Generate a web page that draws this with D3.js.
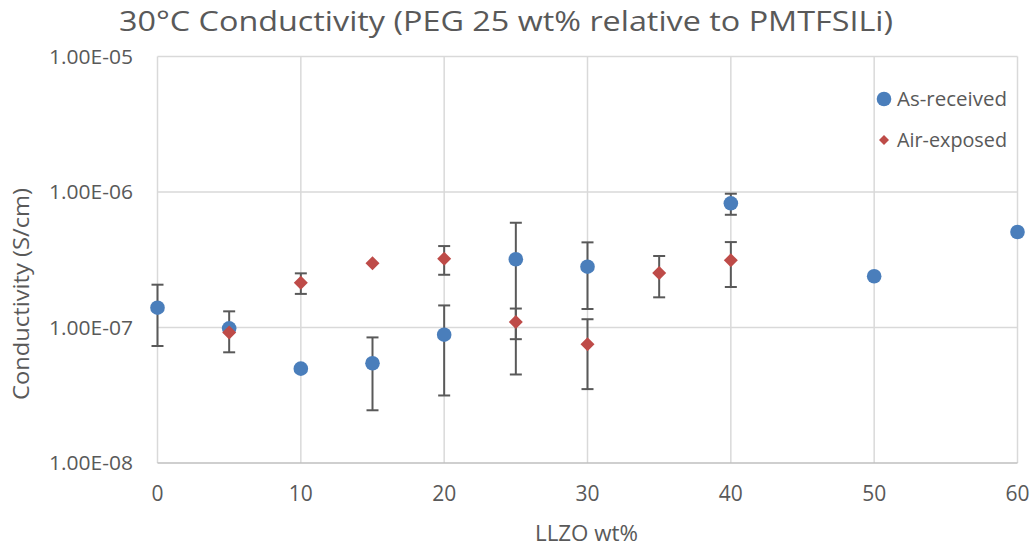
<!DOCTYPE html>
<html>
<head>
<meta charset="utf-8">
<script src="https://cdn.jsdelivr.net/npm/d3@7"></script>
<style>
  html, body { margin: 0; padding: 0; background: #fff; }
  svg text { font-family: "Open Sans", "Noto Sans", sans-serif; fill: #595959; }
</style>
</head>
<body>
<svg id="chart" width="1034" height="548"></svg>
<script>
// LLZO loading (wt%) and 30°C conductivity (S/cm) with standard deviations
const receivedX   = [0, 5, 10, 15, 20, 25, 30, 40, 50, 60];
const receivedY   = [1.40e-7, 9.86e-8, 4.97e-8, 5.45e-8, 8.85e-8, 3.19e-7, 2.81e-7, 8.25e-7, 2.39e-7, 5.07e-7];
const receivedErr = [6.7e-8, 3.3e-8, 0, 3.0e-8, 5.7e-8, 2.74e-7, 1.44e-7, 1.46e-7, 5e-9, 0];

const exposedX   = [5, 10, 15, 20, 25, 30, 35, 40];
const exposedY   = [9.2e-8, 2.14e-7, 2.98e-7, 3.22e-7, 1.10e-7, 7.51e-8, 2.52e-7, 3.13e-7];
const exposedErr = [0, 3.7e-8, 0, 7.7e-8, 2.8e-8, 4.0e-8, 8.5e-8, 1.14e-7];

const xTicks = [0, 10, 20, 30, 40, 50, 60];
const yTicks = [1e-8, 1e-7, 1e-6, 1e-5];
const seriesNames = ["As-received", "Air-exposed"];

const titleText = "30°C Conductivity (PEG 25 wt% relative to PMTFSILi)";
const xTitle = "LLZO wt%";
const yTitle = "Conductivity (S/cm)";

const blue = "#4a7ebb", red = "#be4b48", ink = "#595959", grid = "#d9d9d9";

const svg = d3.select("#chart");
const plotL = 157.5, plotR = 1017.5, plotT = 56.5, plotB = 463;

const x = d3.scaleLinear().domain([0, 60]).range([plotL, plotR]);
const y = d3.scaleLog().domain([1e-8, 1e-5]).range([plotB, plotT]);

// gridlines
svg.append("g").selectAll("line").data(xTicks).join("line")
  .attr("x1", d => x(d)).attr("x2", d => x(d))
  .attr("y1", plotT).attr("y2", plotB)
  .attr("stroke", grid).attr("stroke-width", 1.5);
svg.append("g").selectAll("line").data(yTicks).join("line")
  .attr("x1", plotL).attr("x2", plotR)
  .attr("y1", d => y(d)).attr("y2", d => y(d))
  .attr("stroke", d => d === 1e-8 ? "#bfbfbf" : grid).attr("stroke-width", 1.5);

// tick labels
svg.append("g").selectAll("text").data(yTicks).join("text")
  .attr("x", 133).attr("y", d => y(d)).attr("dy", "0.35em")
  .attr("text-anchor", "end").attr("font-size", 20)
  .attr("textLength", 84).attr("lengthAdjust", "spacingAndGlyphs")
  .text(d => d.toExponential(2).replace("e-", "E-0").toUpperCase());
svg.append("g").selectAll("text").data(xTicks).join("text")
  .attr("x", d => x(d)).attr("y", 494).attr("dy", "0.35em")
  .attr("text-anchor", "middle").attr("font-size", 21)
  .text(d => d);

// titles
svg.append("text").attr("x", 119).attr("y", 31)
  .attr("font-size", 28)
  .attr("textLength", 774).attr("lengthAdjust", "spacingAndGlyphs")
  .text(titleText);
svg.append("text").attr("x", 535).attr("y", 541)
  .attr("font-size", 21)
  .attr("textLength", 103).attr("lengthAdjust", "spacingAndGlyphs")
  .text(xTitle);
svg.append("text").attr("transform", "translate(29,400) rotate(-90)")
  .attr("font-size", 21)
  .attr("textLength", 212).attr("lengthAdjust", "spacingAndGlyphs")
  .text(yTitle);

// error bars
function errorBars(xs, ys, es) {
  const d = xs.map((v, i) => ({ x: v, lo: ys[i] - es[i], hi: ys[i] + es[i], e: es[i] })).filter(p => p.e > 0);
  const g = svg.append("g").attr("stroke", ink).attr("stroke-width", 2);
  g.selectAll(".v").data(d).join("line")
    .attr("x1", p => x(p.x)).attr("x2", p => x(p.x))
    .attr("y1", p => y(p.lo)).attr("y2", p => y(p.hi));
  g.selectAll(".t").data(d).join("line")
    .attr("x1", p => x(p.x) - 6).attr("x2", p => x(p.x) + 6)
    .attr("y1", p => y(p.hi)).attr("y2", p => y(p.hi));
  g.selectAll(".b").data(d).join("line")
    .attr("x1", p => x(p.x) - 6).attr("x2", p => x(p.x) + 6)
    .attr("y1", p => y(p.lo)).attr("y2", p => y(p.lo));
}
errorBars(receivedX, receivedY, receivedErr);
errorBars(exposedX, exposedY, exposedErr);

// markers
const circ = d3.symbol().type(d3.symbolCircle).size(Math.PI * 7.3 * 7.3);
const diam = d3.symbol().type(d3.symbolSquare).size(98);
svg.append("g").selectAll("path").data(receivedX).join("path")
  .attr("d", circ)
  .attr("transform", (d, i) => `translate(${x(d)},${y(receivedY[i])})`)
  .attr("fill", blue);
svg.append("g").selectAll("path").data(exposedX).join("path")
  .attr("d", diam)
  .attr("transform", (d, i) => `translate(${x(d)},${y(exposedY[i])}) rotate(45)`)
  .attr("fill", red);

// legend
const legend = svg.append("g");
legend.append("path").attr("d", circ).attr("transform", "translate(884,99)").attr("fill", blue);
legend.append("path").attr("d", d3.symbol().type(d3.symbolSquare).size(50))
  .attr("transform", "translate(884,140) rotate(45)").attr("fill", red);
legend.selectAll("text").data(seriesNames).join("text")
  .attr("x", 897).attr("y", (d, i) => i === 0 ? 99 : 140).attr("dy", "0.35em")
  .attr("font-size", 20)
  .attr("textLength", 110).attr("lengthAdjust", "spacingAndGlyphs")
  .text(d => d);
</script>
</body>
</html>
